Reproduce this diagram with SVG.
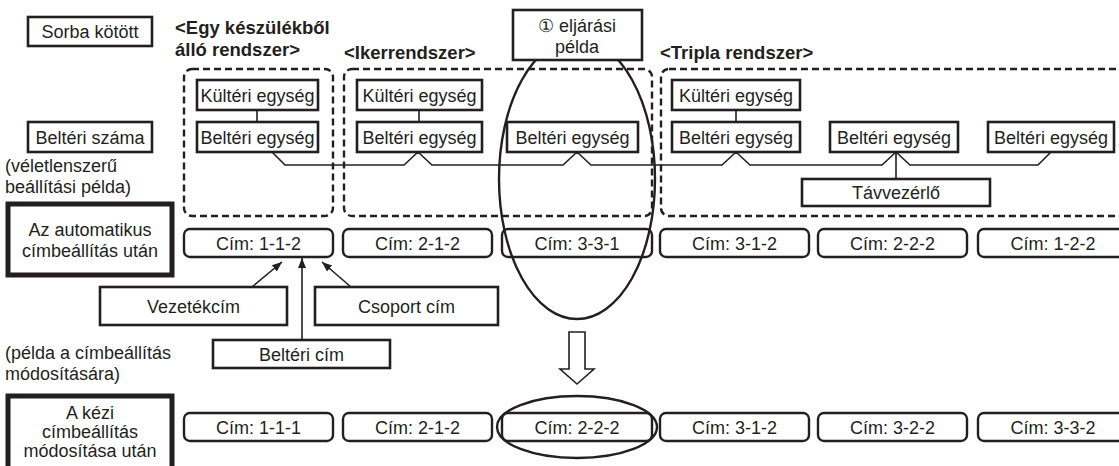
<svg xmlns="http://www.w3.org/2000/svg" width="1119" height="466" viewBox="0 0 1119 466">
<style>
text{font-family:"Liberation Sans",Arial,sans-serif;font-size:18px;fill:#231f20}
.h{font-weight:bold;font-size:18.5px}
.c{text-anchor:middle}
.box{fill:#fff;stroke:#231f20;stroke-width:2.6}
.thick{fill:#fff;stroke:#231f20;stroke-width:5}
.dash{fill:none;stroke:#231f20;stroke-width:2.4;stroke-dasharray:7 4}
.cim{fill:#fff;stroke:#231f20;stroke-width:2.4}
.ln{fill:none;stroke:#231f20;stroke-width:1.6}
.ell{fill:none;stroke:#231f20;stroke-width:2.4}
</style>
<defs>
<marker id="ah" viewBox="0 0 10 10" refX="10" refY="5" markerWidth="10" markerHeight="10" markerUnits="userSpaceOnUse" orient="auto">
<path d="M0,1 L10,5 L0,9 Z" fill="#231f20"/>
</marker>
</defs>
<rect width="1119" height="466" fill="#fff"/>

<g id="legend">
<g id="sorba"><rect class="box" x="28" y="17" width="124" height="29"/><text class="c" x="90" y="38">Sorba kötött</text></g>
<g id="beltszama"><rect class="box" x="28" y="122" width="124" height="30"/><text class="c" x="90" y="144">Beltéri száma</text></g>
<text x="5" y="172">(véletlenszerű</text>
<text x="5" y="193">beállítási példa)</text>
<g id="auto"><rect class="thick" x="8" y="204" width="164" height="71"/><text class="c" x="90" y="236">Az automatikus</text><text class="c" x="90" y="257">címbeállítás után</text></g>
<text x="5" y="359">(példa a címbeállítás</text>
<text x="5" y="380">módosítására)</text>
<g id="kezi"><rect class="thick" x="8" y="396" width="164" height="80"/><text class="c" x="90" y="419">A kézi</text><text class="c" x="90" y="438">címbeállítás</text><text class="c" x="90" y="457">módosítása után</text></g>
</g>

<g id="headings">
<text class="h" x="175" y="34">&lt;Egy készülékből</text>
<text class="h" x="175" y="56">álló rendszer&gt;</text>
<text class="h" x="344" y="59">&lt;Ikerrendszer&gt;</text>
<text class="h" x="660" y="59">&lt;Tripla rendszer&gt;</text>
</g>

<g id="groups">
<rect class="dash" x="184" y="69" width="149" height="147" rx="8"/>
<rect class="dash" x="344" y="69" width="308" height="147" rx="8"/>
<rect class="dash" x="661" y="69" width="480" height="147" rx="8"/>
</g>

<g id="connectors">
<line class="ln" x1="257" y1="110" x2="257" y2="122"/>
<line class="ln" x1="419" y1="110" x2="419" y2="122"/>
<line class="ln" x1="736" y1="110" x2="736" y2="122"/>
<polyline class="ln" points="272,152 285,165 404,165 418,152 432,165 563,165 577,152 591,165 722,165 736,152 750,165 882,165 896,152 910,165 1038,165 1051,152"/>
<line class="ln" x1="896" y1="152" x2="896" y2="179"/>
<line class="ln" x1="252" y1="287" x2="282" y2="262" marker-end="url(#ah)"/>
<line class="ln" x1="302" y1="340" x2="302" y2="258" marker-end="url(#ah)"/>
<line class="ln" x1="351" y1="287" x2="322" y2="262" marker-end="url(#ah)"/>
</g>

<g id="units">
<g id="k1"><rect class="box" x="197" y="80" width="121" height="30"/><text class="c" x="257.5" y="102">Kültéri egység</text></g>
<g id="b1"><rect class="box" x="197" y="122" width="121" height="30"/><text class="c" x="257.5" y="144">Beltéri egység</text></g>
<g id="k2"><rect class="box" x="357" y="80" width="125" height="30"/><text class="c" x="419.5" y="102">Kültéri egység</text></g>
<g id="b2"><rect class="box" x="357" y="122" width="125" height="30"/><text class="c" x="419.5" y="144">Beltéri egység</text></g>
<g id="b3"><rect class="box" x="507" y="122" width="131" height="30"/><text class="c" x="572.5" y="144">Beltéri egység</text></g>
<g id="k4"><rect class="box" x="672" y="80" width="128" height="30"/><text class="c" x="736" y="102">Kültéri egység</text></g>
<g id="b4"><rect class="box" x="672" y="122" width="128" height="30"/><text class="c" x="736" y="144">Beltéri egység</text></g>
<g id="b5"><rect class="box" x="830" y="122" width="128" height="30"/><text class="c" x="894" y="144">Beltéri egység</text></g>
<g id="b6"><rect class="box" x="988" y="122" width="126" height="30"/><text class="c" x="1051" y="144">Beltéri egység</text></g>
<g id="tav"><rect class="box" x="802" y="179" width="188" height="27"/><text class="c" x="896" y="199">Távvezérlő</text></g>
</g>

<g id="row1">
<g><rect class="cim" x="184" y="229" width="149" height="28" rx="6"/><text class="c" x="258.5" y="250">Cím: 1-1-2</text></g>
<g><rect class="cim" x="343" y="229" width="149" height="28" rx="6"/><text class="c" x="417.5" y="250">Cím: 2-1-2</text></g>
<g><rect class="cim" x="502" y="229" width="150" height="28" rx="6"/><text class="c" x="577" y="250">Cím: 3-3-1</text></g>
<g><rect class="cim" x="660" y="229" width="149" height="28" rx="6"/><text class="c" x="734.5" y="250">Cím: 3-1-2</text></g>
<g><rect class="cim" x="818" y="229" width="149" height="28" rx="6"/><text class="c" x="892.5" y="250">Cím: 2-2-2</text></g>
<g><rect class="cim" x="978" y="229" width="150" height="28" rx="6"/><text class="c" x="1053" y="250">Cím: 1-2-2</text></g>
</g>

<g id="labels">
<g id="vez"><rect class="box" x="100" y="287" width="187" height="38"/><text class="c" x="193.5" y="313">Vezetékcím</text></g>
<g id="csop"><rect class="box" x="315" y="287" width="183" height="38"/><text class="c" x="406.5" y="313">Csoport cím</text></g>
<g id="beltcim"><rect class="box" x="213" y="340" width="177" height="28"/><text class="c" x="301.5" y="361">Beltéri cím</text></g>
</g>

<g id="row2">
<g><rect class="cim" x="184" y="413" width="149" height="28" rx="6"/><text class="c" x="258.5" y="434">Cím: 1-1-1</text></g>
<g><rect class="cim" x="343" y="413" width="149" height="28" rx="6"/><text class="c" x="417.5" y="434">Cím: 2-1-2</text></g>
<g><rect class="cim" x="502" y="413" width="150" height="28" rx="6"/><text class="c" x="577" y="434">Cím: 2-2-2</text></g>
<g><rect class="cim" x="660" y="413" width="149" height="28" rx="6"/><text class="c" x="734.5" y="434">Cím: 3-1-2</text></g>
<g><rect class="cim" x="818" y="413" width="149" height="28" rx="6"/><text class="c" x="892.5" y="434">Cím: 3-2-2</text></g>
<g><rect class="cim" x="978" y="413" width="150" height="28" rx="6"/><text class="c" x="1053" y="434">Cím: 3-3-2</text></g>
</g>

<g id="highlight">
<ellipse class="ell" cx="577" cy="179" rx="78" ry="140"/>
<ellipse class="ell" cx="577" cy="427" rx="80" ry="31"/>
<path d="M569,332 H585 V369 H594 L577,384 L560,369 H569 Z" fill="#fff" stroke="#231f20" stroke-width="1.6"/>
<g id="proc"><rect class="box" x="513" y="10" width="129" height="50"/><text class="c" x="577" y="32">① eljárási</text><text class="c" x="577" y="53">példa</text></g>
</g>
</svg>
